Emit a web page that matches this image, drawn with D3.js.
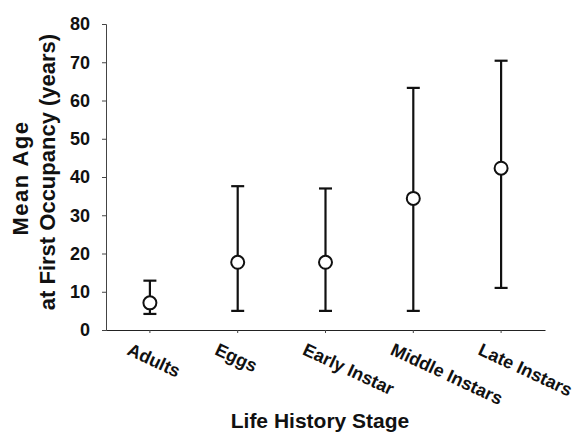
<!DOCTYPE html>
<html>
<head>
<script src="https://d3js.org/d3.v7.min.js"></script>
<style>
    body { margin: 0; background: #fff; }
    text { font-family: Arial, "Liberation Sans", sans-serif; font-weight: bold; fill: #111; }
</style>
</head>
<body>
<svg width="579" height="434"></svg>
<script>
    // values
    const stages = ["Adults", "Eggs", "Early Instar", "Middle Instars", "Late Instars"];
    const meanAge = [7.1, 17.7, 17.7, 34.4, 42.3];
    const upper = [12.9, 37.6, 37.0, 63.3, 70.4];
    const lower = [4.2, 5.0, 5.0, 5.0, 11.0];
    const yTicks = [0, 10, 20, 30, 40, 50, 60, 70, 80];

    const data = stages.map((s, i) => ({ stage: s, mean: meanAge[i], hi: upper[i], lo: lower[i] }));

    const svg = d3.select("svg");
    const margin = { top: 24, right: 34, bottom: 104, left: 106 };
    const width = 579 - margin.left - margin.right;
    const height = 434 - margin.top - margin.bottom;

    const g = svg.append("g").attr("transform", `translate(${margin.left},${margin.top})`);

    const x = d3.scaleBand().domain(stages).range([0, width]);
    const y = d3.scaleLinear().domain([0, 80]).range([height, 0]);

    // y axis
    const yAxis = g.append("g")
        .call(d3.axisLeft(y).tickValues(yTicks).tickSize(4).tickPadding(12));
    yAxis.select(".domain").attr("stroke", "#444").attr("stroke-width", 1);
    yAxis.selectAll(".tick line").attr("stroke", "#444");
    yAxis.selectAll("text").attr("font-size", null).style("font-size", "18px").attr("fill", "#111");

    // x axis
    const xAxis = g.append("g")
        .attr("transform", `translate(0,${height})`)
        .call(d3.axisBottom(x).tickSize(3).tickSizeOuter(0).tickFormat(""));
    xAxis.select(".domain").attr("stroke", "#222").attr("stroke-width", 1.2);
    xAxis.selectAll(".tick line").attr("stroke", "#444");

    // rotated category labels
    g.append("g").selectAll("text")
        .data(stages)
        .join("text")
        .attr("transform", d => `translate(${x(d) + x.bandwidth() / 2 - 24},${height + 24}) rotate(25)`)
        .attr("text-anchor", "start")
        .style("font-size", "18px")
        .text(d => d);

    const cx = d => x(d.stage) + x.bandwidth() / 2;

    // error bars
    const bars = g.append("g").attr("stroke", "#111").attr("stroke-width", 2.2);
    bars.selectAll("line.v")
        .data(data).join("line").attr("class", "v")
        .attr("x1", cx).attr("x2", cx)
        .attr("y1", d => y(d.lo)).attr("y2", d => y(d.hi));
    bars.selectAll("line.top")
        .data(data).join("line").attr("class", "top")
        .attr("x1", d => cx(d) - 6.5).attr("x2", d => cx(d) + 6.5)
        .attr("y1", d => y(d.hi)).attr("y2", d => y(d.hi));
    bars.selectAll("line.bot")
        .data(data).join("line").attr("class", "bot")
        .attr("x1", d => cx(d) - 6.5).attr("x2", d => cx(d) + 6.5)
        .attr("y1", d => y(d.lo)).attr("y2", d => y(d.lo));

    // means
    g.append("g").selectAll("circle")
        .data(data).join("circle")
        .attr("cx", cx)
        .attr("cy", d => y(d.mean))
        .attr("r", 6.5)
        .attr("fill", "#fff")
        .attr("stroke", "#111")
        .attr("stroke-width", 2);

    // axis titles
    svg.append("text")
        .attr("transform", "translate(28,178) rotate(-90)")
        .attr("text-anchor", "middle")
        .style("font-size", "22px")
        .style("letter-spacing", "1.5px")
        .text("Mean Age");
    svg.append("text")
        .attr("transform", "translate(55,172) rotate(-90)")
        .attr("text-anchor", "middle")
        .style("font-size", "22px")
        .text("at First Occupancy (years)");

    svg.append("text")
        .attr("x", 320)
        .attr("y", 428)
        .attr("text-anchor", "middle")
        .style("font-size", "21px")
        .text("Life History Stage");
</script>
</body>
</html>
